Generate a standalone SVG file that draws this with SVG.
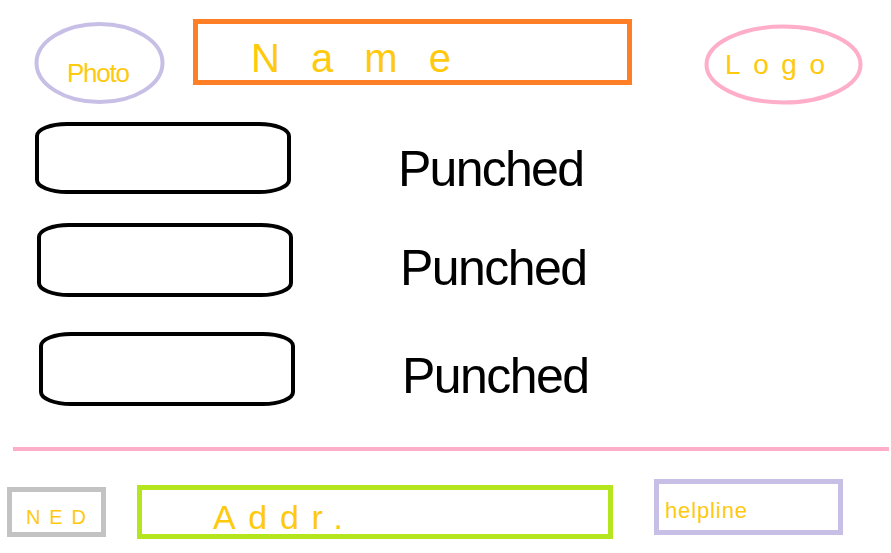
<svg xmlns="http://www.w3.org/2000/svg" width="891" height="553" viewBox="0 0 891 553">
<style>
.hand{font-family:"Liberation Sans",Arial,sans-serif;fill:#ffc90e}
.blk{font-family:"Liberation Sans",Arial,sans-serif;fill:#000}
.slot{fill:none;stroke:#000;stroke-width:4}
</style>
<rect width="891" height="553" fill="#fff"/>
<g id="photo">
<ellipse cx="99.5" cy="63" rx="63" ry="39" fill="none" stroke="#c8bfe7" stroke-width="4"/>
<text class="hand" x="67" y="82" font-size="26" textLength="63">Photo</text>
</g>
<g id="name">
<rect x="195.5" y="21.5" width="434" height="61" fill="none" stroke="#ff7f27" stroke-width="5"/>
<text class="hand" x="251" y="72" font-size="40" textLength="200">Name</text>
</g>
<g id="logo">
<ellipse cx="783.5" cy="64.5" rx="77" ry="38" fill="none" stroke="#ffaec9" stroke-width="4"/>
<text class="hand" x="725" y="74" font-size="28" textLength="100">Logo</text>
</g>
<g id="item1">
<rect class="slot" x="37" y="124" width="252" height="68" rx="30" ry="12"/>
<text class="blk" x="398" y="186" font-size="50" textLength="187">Punched</text>
</g>
<g id="item2">
<rect class="slot" x="39" y="225" width="252" height="70" rx="30" ry="12"/>
<text class="blk" x="400" y="285" font-size="50" textLength="188">Punched</text>
</g>
<g id="item3">
<rect class="slot" x="41" y="334" width="252" height="70" rx="30" ry="12"/>
<text class="blk" x="402" y="393" font-size="50" textLength="188">Punched</text>
</g>
<line x1="13" y1="449" x2="889" y2="449" stroke="#ffaec9" stroke-width="4"/>
<g id="ned">
<rect x="9.5" y="489.5" width="94" height="45" fill="none" stroke="#c3c3c3" stroke-width="5"/>
<text class="hand" x="26" y="524" font-size="20" textLength="60">NED</text>
</g>
<g id="addr">
<rect x="139.5" y="487.5" width="471" height="49" fill="none" stroke="#b5e61d" stroke-width="5"/>
<text class="hand" x="213" y="529" font-size="34" textLength="130">Addr.</text>
</g>
<g id="helpline">
<rect x="656.5" y="481.5" width="184" height="51" fill="none" stroke="#c8bfe7" stroke-width="5"/>
<text class="hand" x="665" y="518" font-size="22" textLength="82">helpline</text>
</g>
</svg>
